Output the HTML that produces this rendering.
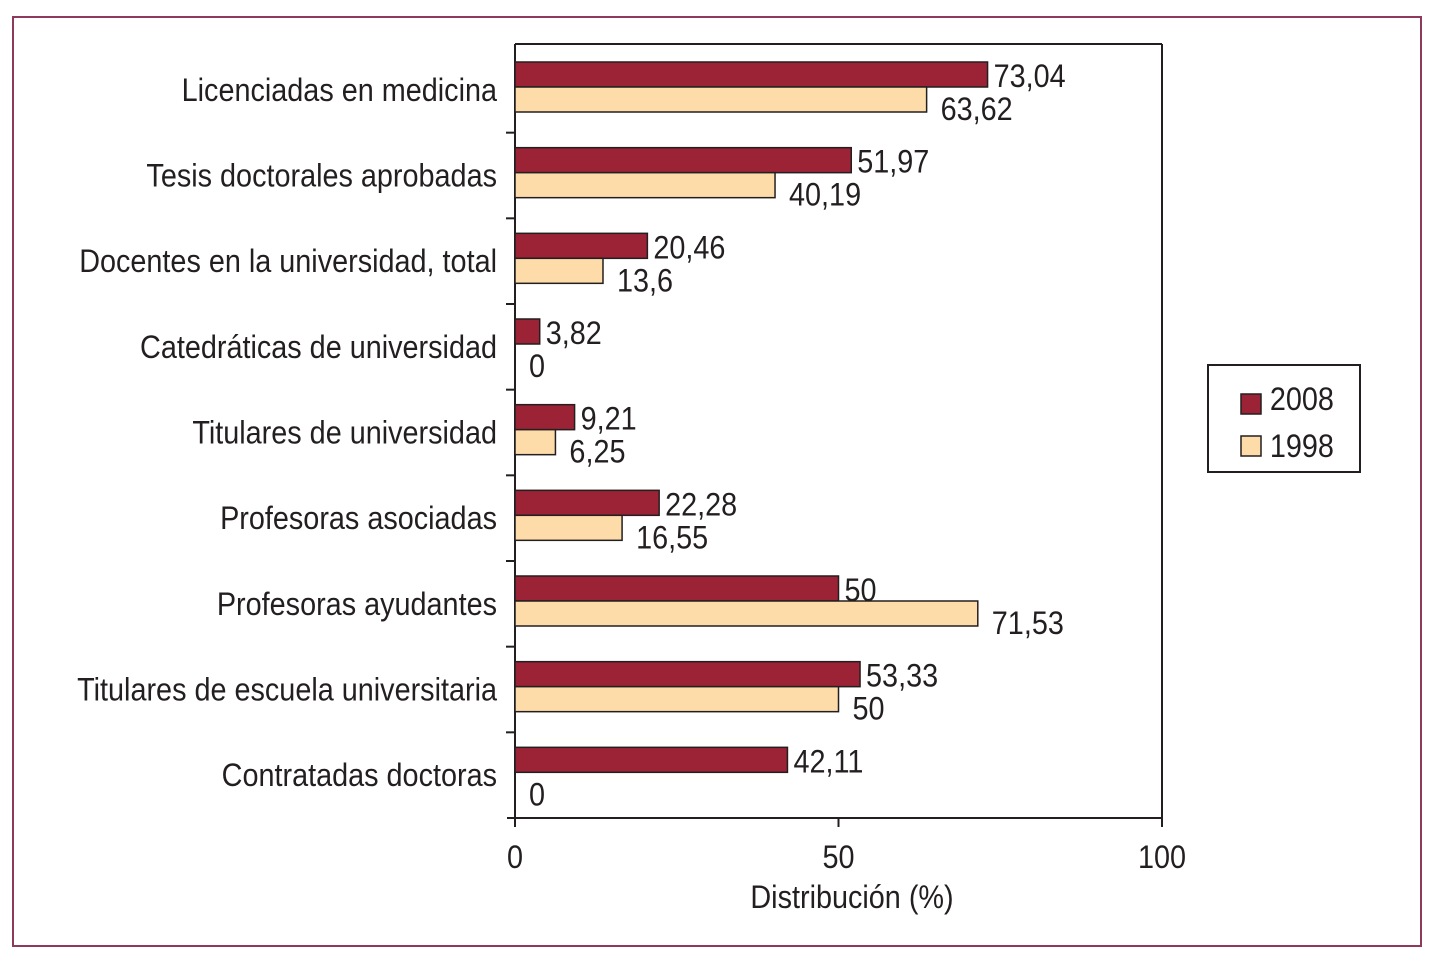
<!DOCTYPE html>
<html><head><meta charset="utf-8"><style>
html,body{margin:0;padding:0;background:#fff;}
svg{display:block;}
text{font-family:"Liberation Sans Narrow","Liberation Sans",sans-serif;fill:#231f20;}
</style></head><body>
<svg id="chart" width="1433" height="962" xmlns="http://www.w3.org/2000/svg">
<rect x="13" y="17" width="1408" height="929" fill="none" stroke="#8e3a5c" stroke-width="2"/>
<g id="plot"></g>
<g>
<rect x="1208" y="365" width="152" height="107" fill="#fff" stroke="#231f20" stroke-width="2"/>
<rect x="1241" y="394" width="20" height="20" fill="#9b2335" stroke="#231f20" stroke-width="1.5"/>
<text x="1411" y="410" font-size="32" transform="scale(0.9,1)">2008</text>
<rect x="1241" y="436" width="20" height="20" fill="#fddcaa" stroke="#231f20" stroke-width="1.5"/>
<text x="1411" y="457" font-size="32" transform="scale(0.9,1)">1998</text>
</g>
</svg>
<script>
const categories = ["Licenciadas en medicina","Tesis doctorales aprobadas","Docentes en la universidad, total","Catedráticas de universidad","Titulares de universidad","Profesoras asociadas","Profesoras ayudantes","Titulares de escuela universitaria","Contratadas doctoras"];
const values2008 = [73.04,51.97,20.46,3.82,9.21,22.28,50,53.33,42.11];
const values1998 = [63.62,40.19,13.6,0,6.25,16.55,71.53,50,0];
const labels2008 = ["73,04","51,97","20,46","3,82","9,21","22,28","50","53,33","42,11"];
const labels1998 = ["63,62","40,19","13,6","0","6,25","16,55","71,53","50","0"];
const xTicks = [0,50,100];

const NS="http://www.w3.org/2000/svg";
const g=document.getElementById('plot');
const X0=515, X1=1162, Y0=47, Y1=818;
const SX=0.9;
const band=(Y1-Y0)/categories.length;
const x=v=>X0+(v/100)*(X1-X0);
const yb=i=>Y0+i*band;
function mk(tag,attrs,text){const e=document.createElementNS(NS,tag);for(const k in attrs)e.setAttribute(k,attrs[k]);if(text!==undefined)e.textContent=text;g.appendChild(e);return e;}
function txt(px,py,size,anchor,s){return mk('text',{x:px/SX,y:py,'font-size':size,'text-anchor':anchor,transform:'scale('+SX+',1)'},s);}

let e=mk('line',{x1:X0,y1:44,x2:X0,y2:Y1+8,stroke:'#231f20','stroke-width':2});


e=mk('line',{x1:X0-8,y1:Y1,x2:X1,y2:Y1,stroke:'#231f20','stroke-width':2});


e=mk('line',{x1:X0,y1:44,x2:X1,y2:44,stroke:'#231f20','stroke-width':2});


e=mk('line',{x1:X1,y1:44,x2:X1,y2:Y1,stroke:'#231f20','stroke-width':2});



xTicks.forEach(t=>{
  let l=mk('line',{x1:x(t),y1:Y1,x2:x(t),y2:Y1+9,stroke:'#231f20','stroke-width':2});
  
  
  let tx=txt(x(t),868,32,'middle',String(t));
  
  
});
e=txt(852,908,32,'middle','Distribución (%)');



categories.forEach((c,i)=>{
  const top=yb(i);
  if(i>0){
    let l=mk('line',{x1:X0-9,y1:top,x2:X0,y2:top,stroke:'#231f20','stroke-width':2});
    
    
  }
  let t=txt(497,top+band/2+11,32,'end',c);
  
  
  const by=top+15;
  let b=mk('rect',{x:X0,y:by,width:Math.max(0,x(values2008[i])-X0),height:25,fill:'#9b2335',stroke:'#231f20','stroke-width':1.5});
  
  
  let b2=mk('rect',{x:X0,y:by+25,width:Math.max(0,x(values1998[i])-X0),height:25,fill:'#fddcaa',stroke:'#231f20','stroke-width':1.5});
  
  
  if(values1998[i]===0) b2.setAttribute('stroke','none');
  let v1=txt(x(values2008[i])+6,by+25,32,'start',labels2008[i]);
  
  
  let v2=txt(x(values1998[i])+14,by+58,32,'start',labels1998[i]);
  
  
});
</script>
</body></html>
